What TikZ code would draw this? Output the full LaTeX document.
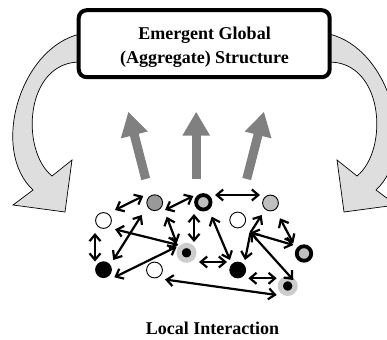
\documentclass[tikz,border=0pt]{standalone}
\usepackage{fontspec}
\setmainfont{Liberation Serif}
\usetikzlibrary{arrows.meta}

\begin{document}
\begin{tikzpicture}[
       x=1pt, y=-1pt,
       >={Straight Barb[length=6.5pt,width=11pt]},
       link/.style={line width=2.2pt, <->},
       oneway/.style={line width=2.2pt, ->},
       band/.style={fill=black!13, draw=black, line width=0.7pt},
       rise/.style={line width=9pt, draw=black!50, -{Triangle[length=24pt,width=26pt]}},
       globalbox/.style={
         rectangle,
         rounded corners=8pt,
         draw,
         fill=white,
         line width=4pt,
         minimum width=251pt,
         minimum height=67pt
       },
       title/.style={font=\fontsize{18}{24}\selectfont\bfseries, inner sep=0pt, align=center},
       agent/.style={circle, draw, line width=0.9pt, inner sep=0pt, minimum size=15.8pt},
       blank/.style={agent, fill=white},
       mid/.style={agent, fill=black!40},
       pale/.style={agent, fill=black!25},
       dark/.style={agent, fill=black},
       rim/.style={circle, draw, line width=3.8pt, inner sep=0pt, minimum size=14.5pt, fill=black!25},
       halo/.style={circle, draw=black!20, line width=5.2pt, inner sep=0pt, minimum size=14.7pt, fill=black}
     ]

       \useasboundingbox (0,0) rectangle (387,339);
       \clip (0,0) rectangle (387,339);

       \path[band] (95,33) -- (80,34) .. controls (20,48) and (-10,150) .. (33,190)
         -- (13,205) -- (65,212) -- (72,160) -- (52,176)
         .. controls (20,150) and (25,62) .. (80,62) -- (95,62) -- cycle;
       \begin{scope}[xshift=409pt, xscale=-1]
         \path[band] (95,33) -- (80,34) .. controls (20,48) and (-10,150) .. (33,190)
           -- (13,205) -- (65,212) -- (72,160) -- (52,176)
           .. controls (20,150) and (25,62) .. (80,62) -- (95,62) -- cycle;
       \end{scope}

       \node (global) at (204.2,43.7) [globalbox] {};
       \node (globaltext) at (204.5,47.2) [title] {Emergent Global\\(Aggregate) Structure};
       \node (local) at (212.5,334) [title, anchor=base] {Local Interaction};

       \coordinate (foot1) at (145.7,179);
       \coordinate (foot2) at (196.2,179);
       \coordinate (foot3) at (246.7,179);
       \coordinate (tip1) at (128.3,111.7);
       \coordinate (tip2) at (196.2,111.7);
       \coordinate (tip3) at (264,111.7);
       \draw[rise] (foot1) -- (tip1);
       \draw[rise] (foot2) -- (tip2);
       \draw[rise] (foot3) -- (tip3);

       \node (a1) at (103.5,220.5) [blank] {};
       \node (a2) at (154.7,202.7) [mid] {};
       \node (a3) at (203.3,202.3) [rim] {};
       \node (a4) at (270.5,203) [pale] {};
       \node (a5) at (237.7,220) [blank] {};
       \node (a6) at (103.5,269.7) [dark] {};
       \node (a7) at (186.5,252.8) [halo] {};
       \node (a8) at (154.5,270) [blank] {};
       \node (a9) at (237.7,270) [dark] {};
       \node (a10) at (304,253.5) [rim] {};
       \node (a11) at (287.7,286) [halo] {};
       \coordinate (hub) at (250.5,232.5);

       \draw[link] ([shift={(11.5,-10.5)}]a1.center) -- ([shift={(-11.4,-6.7)}]a2.center);
       \draw[link] ([shift={(-8.5,12.5)}]a1.center) -- ([shift={(-8.5,-8.2)}]a6.center);
       \draw[link] ([shift={(11.5,8.8)}]a1.center) -- ([shift={(-8.2,-7.8)}]a7.center);
       \draw[link] ([shift={(9.8,-9.7)}]a6.center) -- ([shift={(-13,12.3)}]a2.center);
       \draw[link] ([shift={(10.8,7.6)}]a6.center) -- ([shift={(-9.8,-6.1)}]a7.center);
       \draw[link] ([shift={(12,14)}]a2.center) -- ([shift={(-9.8,-9.5)}]a7.center);
       \draw[link] ([shift={(10.3,7.3)}]a2.center) -- ([shift={(-10,-6.3)}]a3.center);
       \draw[link] ([shift={(11.7,-7.3)}]a3.center) -- ([shift={(-10.5,-8)}]a4.center);
       \draw[link] ([shift={(-9.3,11.7)}]a3.center) -- ([shift={(7.5,-10.8)}]a7.center);
       \draw[link] ([shift={(8.4,14.4)}]a3.center) -- ([shift={(-7.7,-10)}]a9.center);
       \draw[link] ([shift={(12.5,9.2)}]a7.center) -- ([shift={(-10.7,-8)}]a9.center);
       \draw[link] ([shift={(10.5,9.5)}]a8.center) -- ([shift={(-11,9)}]a11.center);
       \draw[link] ([shift={(10.6,8.3)}]a9.center) -- ([shift={(-11,-7.7)}]a11.center);
       \draw[link] ([shift={(9.5,15.3)}]a4.center) -- ([shift={(-10.7,-10.2)}]a10.center);
       \draw[oneway] (hub) -- ([shift={(-8.8,12)}]a4.center);
       \draw[oneway] (hub) -- ([shift={(7.3,-10)}]a9.center);
       \draw[link] (hub) -- ([shift={(-10.7,-8.5)}]a10.center);
       \draw[link] (hub) -- ([shift={(5.6,-6)}]a11.center);

\end{tikzpicture}
\end{document}
